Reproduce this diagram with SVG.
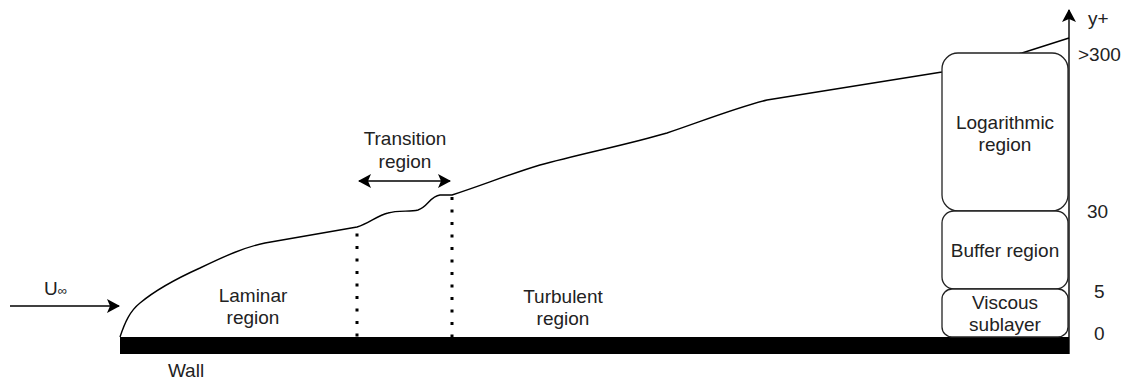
<svg xmlns="http://www.w3.org/2000/svg" width="1129" height="380" viewBox="0 0 1129 380">
<style>
text{font-family:"Liberation Sans",Arial,sans-serif;font-size:19px;fill:#222;}
.c{text-anchor:middle;}
.box{fill:#fff;stroke:#222;stroke-width:1.3;}
.ln{fill:none;stroke:#000;stroke-width:1.4;}
.dot{fill:none;stroke:#000;stroke-width:3;stroke-dasharray:3 9.5;}
</style>
<defs>
<marker id="ah" markerWidth="14" markerHeight="14" refX="12" refY="7" orient="auto-start-reverse" markerUnits="userSpaceOnUse">
<path d="M0,0 L13,7 L0,14 L3,7 Z" fill="#000"/>
</marker>
</defs>
<g id="wall">
<rect x="120" y="337" width="949" height="17" fill="#000"/>
<text class="c" x="186" y="377">Wall</text>
</g>
<g id="connectors">
<path class="ln" d="M120,337 C125,322 130,311 140,303 C158,288 180,277 200,268 C225,256 245,247 265,243 L357,227 C370,223 376,216 388,213 C398,210 410,212 418,210 C428,207 430,196 440,195 L452,195 C480,186 510,174 540,165 C580,154 630,144 667,133 C700,122 735,108 767,100 L942,72 L1022,53 L1069,38"/>
<line class="dot" x1="357" y1="233.5" x2="357" y2="338"/>
<line class="dot" x1="452" y1="197" x2="452" y2="338"/>
<line class="ln" x1="10" y1="306" x2="119" y2="306" marker-end="url(#ah)"/>
<line class="ln" x1="359" y1="181" x2="450" y2="181" marker-start="url(#ah)" marker-end="url(#ah)"/>
<line class="ln" x1="1069" y1="354" x2="1069" y2="10" marker-end="url(#ah)"/>
</g>
<g id="log">
<rect class="box" x="942" y="53" width="126" height="158" rx="16"/>
<text class="c" x="1005" y="129">Logarithmic</text>
<text class="c" x="1005" y="151">region</text>
</g>
<g id="buffer">
<rect class="box" x="942" y="211" width="126" height="78" rx="12"/>
<text class="c" x="1005" y="257">Buffer region</text>
</g>
<g id="viscous">
<rect class="box" x="942" y="289" width="126" height="48" rx="10"/>
<text class="c" x="1005" y="309">Viscous</text>
<text class="c" x="1005" y="331">sublayer</text>
</g>
<g id="laminar">
<text class="c" x="253" y="302">Laminar</text>
<text class="c" x="253" y="324">region</text>
</g>
<g id="turbulent">
<text class="c" x="563" y="303">Turbulent</text>
<text class="c" x="563" y="325">region</text>
</g>
<g id="transition">
<text class="c" x="405" y="145">Transition</text>
<text class="c" x="405" y="168">region</text>
</g>
<g id="uinf">
<text x="44" y="295">U<tspan font-size="13">∞</tspan></text>
</g>
<g id="yplus">
<text x="1088" y="25">y+</text>
<text x="1078" y="61">&gt;300</text>
<text x="1087" y="218">30</text>
<text x="1094" y="298">5</text>
<text x="1094" y="340">0</text>
</g>
</svg>
